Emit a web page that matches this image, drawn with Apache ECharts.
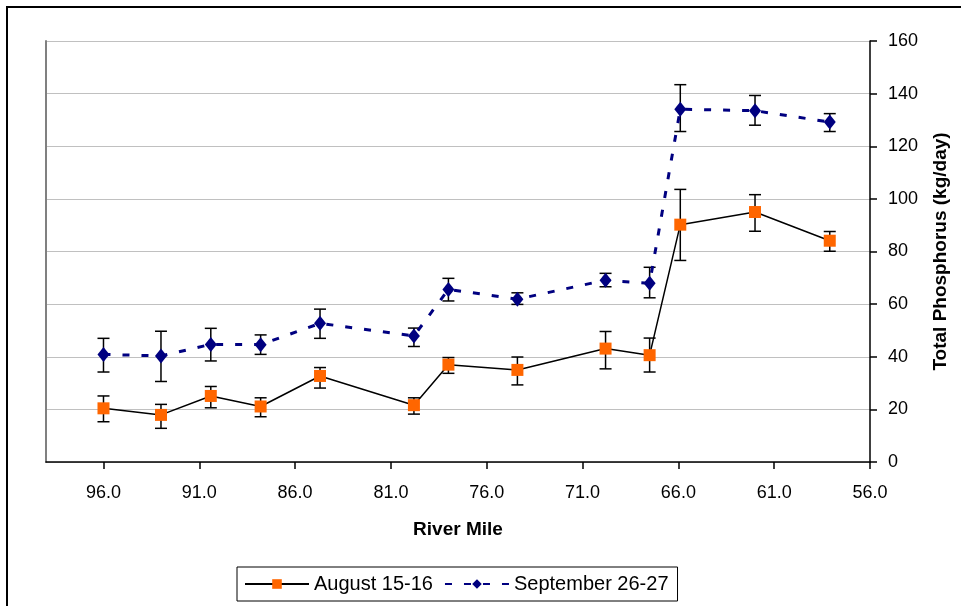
<!DOCTYPE html>
<html>
<head>
<meta charset="utf-8">
<script src="https://cdn.jsdelivr.net/npm/echarts@6/dist/echarts.min.js"></script>
<style>
  html, body { margin: 0; padding: 0; background: #fff; }
  #chart { width: 961px; height: 606px; }
</style>
</head>
<body>
<div id="chart"></div>
<script>
// river mile of each sampling site
const riverMiles = [96.0, 93.0, 90.4, 87.8, 84.7, 79.8, 78.0, 74.4, 69.8, 67.5, 65.9, 62.0, 58.1];
const xTicks = [56, 61, 66, 71, 76, 81, 86, 91, 96];

// August 15-16 load and error bar ends
const augValues = [20.4, 17.9, 25.1, 21.1, 32.7, 21.6, 37.0, 35.0, 43.1, 40.6, 90.2, 95.0, 84.1];
const augLow    = [15.3, 12.8, 20.6, 17.2, 28.1, 18.2, 33.7, 29.3, 35.4, 34.2, 76.6, 87.7, 80.1];
const augHigh   = [25.1, 21.9, 28.7, 24.4, 35.9, 24.4, 39.7, 39.9, 49.6, 47.1, 103.6, 101.6, 87.6];

// September 26-27 load and error bar ends
const sepValues = [40.9, 40.3, 44.7, 44.6, 52.7, 47.9, 65.6, 61.9, 69.1, 67.9, 134.1, 133.5, 129.2];
const sepLow    = [34.2, 30.6, 38.4, 40.9, 47.0, 43.9, 61.2, 59.9, 66.6, 62.4, 125.6, 128.0, 125.6];
const sepHigh   = [47.0, 49.7, 50.8, 48.3, 58.1, 50.9, 69.8, 64.3, 71.7, 74.0, 143.4, 139.3, 132.4];

const FONT = '"Liberation Sans", Arial, sans-serif';

function pairs(xs, ys) {
  return xs.map((x, i) => [x, ys[i]]);
}
function errData(xs, lo, hi) {
  return xs.map((x, i) => [x, lo[i], hi[i]]);
}

// draws a vertical error bar with caps
function renderErr(params, api) {
  const x = api.value(0);
  const top = api.coord([x, api.value(2)]);
  const bot = api.coord([x, api.value(1)]);
  const half = 6;
  const style = { stroke: '#000', lineWidth: 1.5 };
  return {
    type: 'group',
    children: [
      { type: 'line', shape: { x1: top[0], y1: top[1], x2: bot[0], y2: bot[1] }, style },
      { type: 'line', shape: { x1: top[0] - half, y1: top[1], x2: top[0] + half, y2: top[1] }, style },
      { type: 'line', shape: { x1: bot[0] - half, y1: bot[1], x2: bot[0] + half, y2: bot[1] }, style }
    ]
  };
}

const myChart = echarts.init(document.getElementById('chart'));

const option = {
  animation: false,
  backgroundColor: '#fff',
  textStyle: { fontFamily: FONT },
  grid: { left: 46, right: 91, top: 41, bottom: 144 },
  graphic: [
    {
      type: 'rect',
      shape: { x: 7, y: 7, width: 980, height: 620 },
      style: { fill: null, stroke: '#000', lineWidth: 2 },
      silent: true
    }
  ],
  legend: {
    data: ['August 15-16', 'September 26-27'],
    left: 237,
    top: 567,
    orient: 'horizontal',
    itemWidth: 64,
    itemHeight: 12,
    itemGap: 11,
    padding: [7, 9, 7, 7],
    borderColor: '#000',
    borderWidth: 1,
    borderRadius: 0,
    textStyle: { fontFamily: FONT, fontSize: 20, color: '#000' }
  },
  xAxis: {
    type: 'value',
    inverse: true,
    min: 56,
    max: 99,
    interval: 5,
    name: 'River Mile',
    nameLocation: 'middle',
    nameGap: 58,
    nameTextStyle: { fontFamily: FONT, fontSize: 19, fontWeight: 'bold', color: '#000' },
    axisLine: { show: true, onZero: false, lineStyle: { color: '#000', width: 1.5 } },
    axisTick: { show: true, length: 7, customValues: xTicks, lineStyle: { color: '#000', width: 1.5 } },
    axisLabel: {
      customValues: xTicks,
      margin: 22,
      fontSize: 18,
      color: '#000',
      fontFamily: FONT,
      formatter: v => v.toFixed(1)
    },
    splitLine: { show: false }
  },
  yAxis: [
    {
      type: 'value',
      position: 'right',
      min: 0,
      max: 160,
      interval: 20,
      name: 'Total Phosphorus (kg/day)',
      nameLocation: 'middle',
      nameRotate: 90,
      nameGap: 61,
      nameTextStyle: { fontFamily: FONT, fontSize: 19, fontWeight: 'bold', color: '#000' },
      axisLine: { show: true, lineStyle: { color: '#000', width: 1.5 } },
      axisTick: { show: true, length: 7, lineStyle: { color: '#000', width: 1.5 } },
      axisLabel: { margin: 18, fontSize: 18, color: '#000', fontFamily: FONT },
      splitLine: { show: true, lineStyle: { color: '#c0c0c0', width: 1 } }
    },
    {
      type: 'value',
      position: 'left',
      min: 0,
      max: 160,
      interval: 20,
      axisLine: { show: true, lineStyle: { color: '#808080', width: 2 } },
      axisTick: { show: false },
      axisLabel: { show: false },
      splitLine: { show: false }
    }
  ],
  series: [
    {
      name: 'August err',
      type: 'custom',
      renderItem: renderErr,
      data: errData(riverMiles, augLow, augHigh),
      z: 1
    },
    {
      name: 'September err',
      type: 'custom',
      renderItem: renderErr,
      data: errData(riverMiles, sepLow, sepHigh),
      z: 1
    },
    {
      name: 'August 15-16',
      type: 'line',
      data: pairs(riverMiles, augValues),
      symbol: 'rect',
      symbolSize: 12,
      itemStyle: { color: '#ff6600', borderWidth: 0 },
      lineStyle: { color: '#000', width: 1.5 },
      z: 3
    },
    {
      name: 'September 26-27',
      type: 'line',
      data: pairs(riverMiles, sepValues),
      symbol: 'diamond',
      symbolSize: [12, 15],
      itemStyle: { color: '#000080', borderWidth: 0 },
      lineStyle: { color: '#000080', width: 3, type: [7, 12] },
      z: 3
    }
  ]
};

option && myChart.setOption(option, true);
</script>
</body>
</html>
